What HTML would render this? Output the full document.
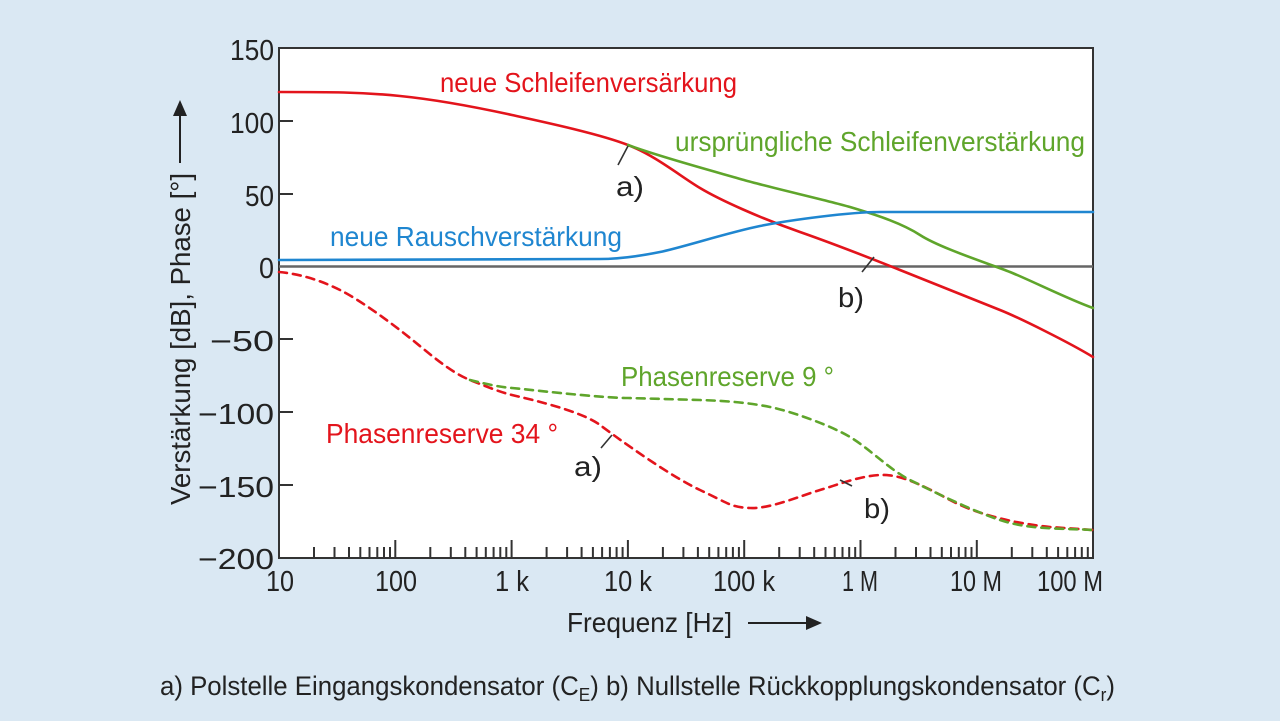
<!DOCTYPE html>
<html><head><meta charset="utf-8"><style>
html,body{margin:0;padding:0;background:#dae8f3;}
svg{display:block}
text{font-family:"Liberation Sans",sans-serif;}
</style></head><body>
<svg width="1280" height="721" viewBox="0 0 1280 721" xmlns="http://www.w3.org/2000/svg">
<rect width="1280" height="721" fill="#dae8f3"/>
<rect x="279" y="48" width="814" height="510" fill="#fff" stroke="#333" stroke-width="2"/>
<line x1="279" y1="266.5" x2="1093" y2="266.5" stroke="#666" stroke-width="2.5"/>
<g stroke="#333" stroke-width="2">
<line x1="279" y1="121" x2="293" y2="121"/><line x1="279" y1="194" x2="293" y2="194"/>
<line x1="279" y1="339" x2="293" y2="339"/><line x1="279" y1="412" x2="293" y2="412"/><line x1="279" y1="485" x2="293" y2="485"/>
</g>
<path fill="none" stroke="#333" stroke-width="2" d="
M314,558V547 M334.5,558V547 M349,558V547 M360.3,558V547 M369.5,558V547 M377.3,558V547 M384,558V547 M390,558V547 M395.3,558V540
M430.3,558V547 M450.8,558V547 M465.3,558V547 M476.6,558V547 M485.8,558V547 M493.6,558V547 M500.3,558V547 M506.3,558V547 M511.6,558V540
M546.6,558V547 M567.1,558V547 M581.6,558V547 M592.9,558V547 M602.1,558V547 M609.9,558V547 M616.6,558V547 M622.6,558V547 M627.9,558V540
M662.9,558V547 M683.4,558V547 M697.9,558V547 M709.2,558V547 M718.4,558V547 M726.2,558V547 M732.9,558V547 M738.9,558V547 M744.2,558V540
M779.2,558V547 M799.7,558V547 M814.2,558V547 M825.5,558V547 M834.7,558V547 M842.5,558V547 M849.2,558V547 M855.2,558V547 M860.5,558V540
M895.5,558V547 M916,558V547 M930.5,558V547 M941.8,558V547 M951,558V547 M958.8,558V547 M965.5,558V547 M971.5,558V547 M976.8,558V540
M1011.8,558V547 M1032.3,558V547 M1046.8,558V547 M1058.1,558V547 M1067.3,558V547 M1075.1,558V547 M1081.8,558V547 M1087.8,558V547"/>
<g fill="none" stroke-width="2.6" stroke-linecap="round">
<path stroke="#e3141c" d="M279,92 C330,92 360,92 400,96 S480,108 512,115 S600,134 628,145 S680,176 700,188 S760,218 800,232 S880,262 900,270 S980,302 1000,310 S1070,343 1093,357"/>
<path stroke="#5fa52b" d="M628,145 C660,157 720,173 744,180 S830,201 850,207 S900,222 920,235 S990,264 1010,272 S1070,300 1093,308"/>
<path stroke="#1f86d0" d="M279,260 L600,259 C620,259 640,256 660,252 S730,232 760,226 S850,212 880,212 L1093,212"/>
<path stroke="#e3141c" stroke-dasharray="8,6" d="M279,272 C300,274 320,280 340,290 S390,322 410,338 S450,372 470,380 S500,392 512,395 S580,410 600,425 S670,476 700,490 S730,507 750,508 S800,496 820,490 S860,476 880,475 S920,484 950,500 S1020,524 1050,527 L1093,530"/>
<path stroke="#5fa52b" stroke-dasharray="8,6" d="M470,380 C490,385 500,387 512,388 S600,398 628,398 L700,400 C730,401 750,403 770,407 S830,425 850,437 S890,470 910,480 S970,510 1000,520 S1060,528 1093,530"/>
</g>
<g stroke="#333" stroke-width="1.6">
<line x1="628" y1="146" x2="618" y2="165"/>
<line x1="612" y1="435" x2="601" y2="448"/>
<line x1="874" y1="257" x2="862" y2="272"/>
<line x1="840" y1="480" x2="852" y2="486"/>
</g>
<g font-size="29" fill="#222" text-anchor="end">
<text x="274" y="60" textLength="44" lengthAdjust="spacingAndGlyphs">150</text>
<text x="274" y="133" textLength="44" lengthAdjust="spacingAndGlyphs">100</text>
<text x="274" y="206" textLength="29" lengthAdjust="spacingAndGlyphs">50</text>
<text x="274" y="278" textLength="15" lengthAdjust="spacingAndGlyphs">0</text>
<text x="274" y="351" textLength="64" lengthAdjust="spacingAndGlyphs">−50</text>
<text x="274" y="424" textLength="76" lengthAdjust="spacingAndGlyphs">−100</text>
<text x="274" y="497" textLength="76" lengthAdjust="spacingAndGlyphs">−150</text>
<text x="274" y="569" textLength="76" lengthAdjust="spacingAndGlyphs">−200</text>
</g>
<g font-size="29" fill="#222" text-anchor="middle">
<text x="280" y="591" textLength="28" lengthAdjust="spacingAndGlyphs">10</text>
<text x="396" y="591" textLength="42" lengthAdjust="spacingAndGlyphs">100</text>
<text x="512" y="591" textLength="34" lengthAdjust="spacingAndGlyphs">1 k</text>
<text x="628" y="591" textLength="48" lengthAdjust="spacingAndGlyphs">10 k</text>
<text x="744" y="591" textLength="62" lengthAdjust="spacingAndGlyphs">100 k</text>
<text x="860" y="591" textLength="36" lengthAdjust="spacingAndGlyphs">1 M</text>
<text x="976" y="591" textLength="52" lengthAdjust="spacingAndGlyphs">10 M</text>
<text x="1070" y="591" textLength="66" lengthAdjust="spacingAndGlyphs">100 M</text>
</g>
<text x="567" y="632" font-size="28" fill="#222" textLength="165" lengthAdjust="spacingAndGlyphs">Frequenz [Hz]</text>
<line x1="748" y1="623" x2="808" y2="623" stroke="#222" stroke-width="2"/>
<polygon points="822,623 806,616 806,630" fill="#222"/>
<g transform="translate(190,505) rotate(-90)">
<text x="0" y="0" font-size="28" fill="#222" textLength="332" lengthAdjust="spacingAndGlyphs">Verstärkung [dB], Phase [°]</text>
<line x1="342" y1="-10" x2="390" y2="-10" stroke="#222" stroke-width="2"/>
<polygon points="405,-10 389,-17 389,-3" fill="#222"/>
</g>
<g font-size="28">
<text x="440" y="92" fill="#e3141c" textLength="297" lengthAdjust="spacingAndGlyphs">neue Schleifenversärkung</text>
<text x="675" y="151" fill="#5fa52b" textLength="410" lengthAdjust="spacingAndGlyphs">ursprüngliche Schleifenverstärkung</text>
<text x="330" y="246" fill="#1f86d0" textLength="292" lengthAdjust="spacingAndGlyphs">neue Rauschverstärkung</text>
<text x="621" y="386" fill="#5fa52b" textLength="213" lengthAdjust="spacingAndGlyphs">Phasenreserve 9 °</text>
<text x="326" y="443" fill="#e3141c" textLength="232" lengthAdjust="spacingAndGlyphs">Phasenreserve 34 °</text>
<g fill="#222">
<text x="616" y="196" textLength="28" lengthAdjust="spacingAndGlyphs">a)</text>
<text x="838" y="307" textLength="26" lengthAdjust="spacingAndGlyphs">b)</text>
<text x="574" y="476" textLength="28" lengthAdjust="spacingAndGlyphs">a)</text>
<text x="864" y="518" textLength="26" lengthAdjust="spacingAndGlyphs">b)</text>
</g>
<text x="160" y="695" fill="#222" font-size="27" textLength="955" lengthAdjust="spacingAndGlyphs">a) Polstelle Eingangskondensator (C<tspan font-size="18" dy="6">E</tspan><tspan dy="-6">)    b) Nullstelle Rückkopplungskondensator (C</tspan><tspan font-size="18" dy="6">r</tspan><tspan dy="-6">)</tspan></text>
</g>
</svg>
</body></html>
